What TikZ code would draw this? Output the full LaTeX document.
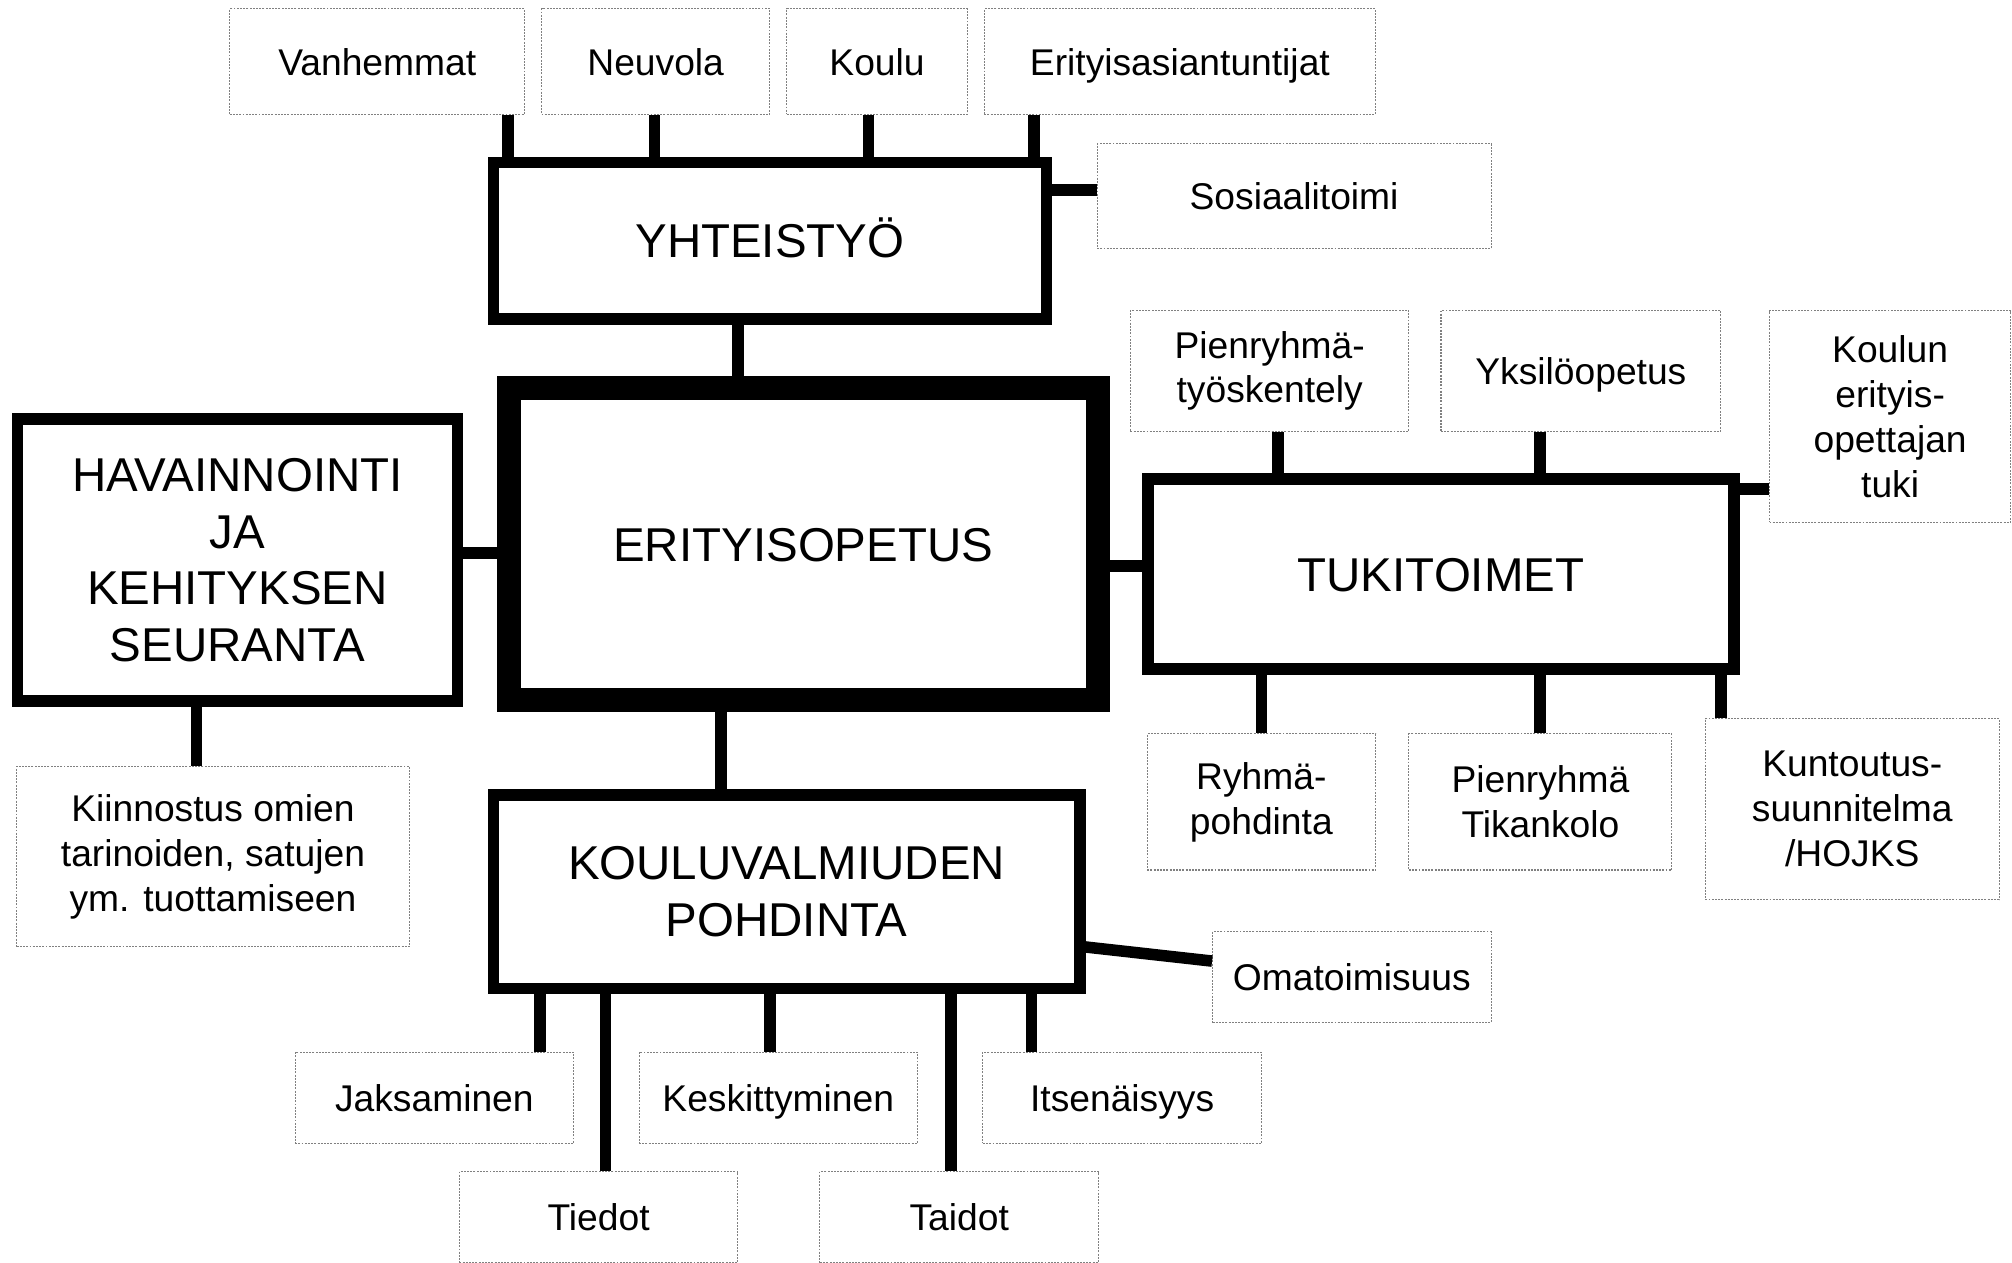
\documentclass[tikz,border=0pt]{standalone}
\usepackage{fontspec}
\setmainfont{Liberation Sans}

\begin{document}
\begin{tikzpicture}[x=1pt,y=-1pt,
  main/.style={draw,line width=9pt,align=center,inner sep=0pt,font=\fontsize{37}{44}\selectfont},
  core/.style={main,line width=19pt},
  leaf/.style={draw=gray,line width=0.8pt,dash pattern=on 1.5pt off 1pt,align=center,inner sep=0pt,font=\fontsize{29}{35}\selectfont},
  oneline/.style={leaf,text height=21pt,text depth=0pt},
  link/.style={line width=9pt}]
\useasboundingbox (0,0) rectangle (1568,984);

\node[core,minimum width=459pt,minimum height=243pt,text height=27pt,text depth=0pt] (ery) at (626,424) {ERITYISOPETUS};
\node[main,minimum width=431pt,minimum height=122pt,text height=27pt,text depth=0pt] (yht) at (600,187.5) {YHTEISTYÖ};
\node[main,minimum width=343pt,minimum height=220pt] (hav) at (185,436.5) {HAVAINNOINTI\\JA\\KEHITYKSEN\\SEURANTA};
\node[main,minimum width=457pt,minimum height=148pt,text height=27pt,text depth=0pt] (tuki) at (1123,447.5) {TUKITOIMET};
\node[main,minimum width=457pt,minimum height=151pt] (kouv) at (613,695) {KOULUVALMIUDEN\\POHDINTA};

\node[oneline,minimum width=230pt,minimum height=82pt] (vanh) at (294,48) {Vanhemmat};
\node[oneline,minimum width=178pt,minimum height=82pt] (neuv) at (511,48) {Neuvola};
\node[oneline,minimum width=141pt,minimum height=82pt] (koulu) at (683.5,48) {Koulu};
\node[oneline,minimum width=305pt,minimum height=82pt] (erit) at (919.5,48) {Erityisasiantuntijat};
\node[oneline,minimum width=307pt,minimum height=82pt] (sos) at (1008.5,153) {Sosiaalitoimi};

\node[leaf,minimum width=306pt,minimum height=141pt] (kiin) at (166,667.5) {Kiinnostus omien\\tarinoiden, satujen\\ym. tuottamiseen};

\node[leaf,minimum width=217pt,minimum height=94pt] (pien) at (989.5,289) {Pienryhmä-\\työskentely};
\node[oneline,minimum width=218pt,minimum height=94pt] (yksi) at (1232,289) {Yksilöopetus};
\node[leaf,minimum width=188pt,minimum height=165pt] (kouer) at (1473,324.5) {Koulun\\erityis-\\opettajan\\tuki};
\node[leaf,minimum width=178pt,minimum height=106pt] (ryhm) at (983,625) {Ryhmä-\\pohdinta};
\node[leaf,minimum width=205pt,minimum height=106pt] (tikan) at (1200.5,625) {Pienryhmä\\Tikankolo};
\node[leaf,minimum width=229pt,minimum height=141pt] (kunt) at (1443.5,630.5) {Kuntoutus-\\suunnitelma\\/HOJKS};

\node[oneline,minimum width=217pt,minimum height=71pt] (omat) at (1053.5,761.5) {Omatoimisuus};
\node[oneline,minimum width=217pt,minimum height=71pt] (jaks) at (338.5,855.5) {Jaksaminen};
\node[oneline,minimum width=217pt,minimum height=71pt] (kesk) at (606.5,855.5) {Keskittyminen};
\node[oneline,minimum width=217pt,minimum height=71pt] (itse) at (874.5,855.5) {Itsenäisyys};
\node[oneline,minimum width=217pt,minimum height=71pt] (tied) at (466.5,948.5) {Tiedot};
\node[oneline,minimum width=217pt,minimum height=71pt] (taid) at (747.5,948.5) {Taidot};

\draw[link] (396,0 |- vanh.south) -- (396,0 |- yht.north);
\draw[link] (510,0 |- neuv.south) -- (510,0 |- yht.north);
\draw[link] (677,0 |- koulu.south) -- (677,0 |- yht.north);
\draw[link] (806,0 |- erit.south) -- (806,0 |- yht.north);
\draw[link] (yht.east |- 0,148) -- (sos.west |- 0,148);
\draw[link] (575,0 |- yht.south) -- (575,0 |- ery.north);

\draw[link] (hav.east |- 0,431) -- (ery.west |- 0,431);
\draw[link] (153,0 |- hav.south) -- (153,0 |- kiin.north);

\draw[link] (ery.east |- 0,441) -- (tuki.west |- 0,441);
\draw[link] (996,0 |- pien.south) -- (996,0 |- tuki.north);
\draw[link] (1200,0 |- yksi.south) -- (1200,0 |- tuki.north);
\draw[link] (tuki.east |- 0,381) -- (kouer.west |- 0,381);
\draw[link] (983,0 |- tuki.south) -- (983,0 |- ryhm.north);
\draw[link] (1200,0 |- tuki.south) -- (1200,0 |- tikan.north);
\draw[link] (1341,0 |- tuki.south) -- (1341,0 |- kunt.north);

\draw[link] (562,0 |- ery.south) -- (562,0 |- kouv.north);
\draw[link] (kouv.east |- 0,738) -- (omat.west |- 0,749);
\draw[link] (421,0 |- kouv.south) -- (421,0 |- jaks.north);
\draw[link] (472,0 |- kouv.south) -- (472,0 |- tied.north);
\draw[link] (600,0 |- kouv.south) -- (600,0 |- kesk.north);
\draw[link] (741,0 |- kouv.south) -- (741,0 |- taid.north);
\draw[link] (804,0 |- kouv.south) -- (804,0 |- itse.north);
\end{tikzpicture}
\end{document}
